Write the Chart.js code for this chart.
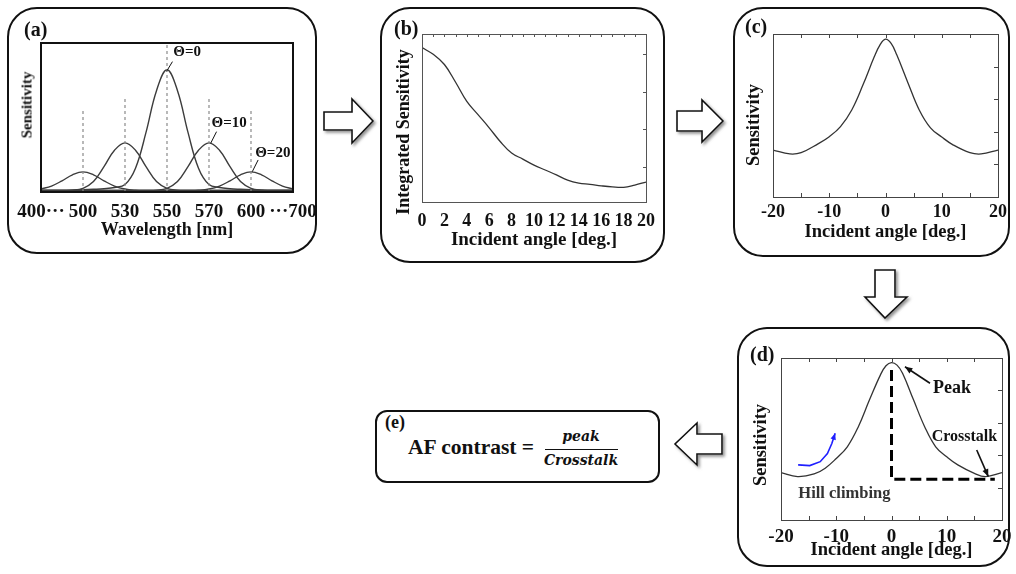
<!DOCTYPE html>
<html>
<head>
<meta charset="utf-8">
<script src="https://cdn.jsdelivr.net/npm/chart.js@4.4.1/dist/chart.umd.min.js"></script>
<style>
  body { margin:0; background:#fff; width:1016px; height:574px; position:relative; overflow:hidden;
         font-family:'Liberation Serif', serif; font-weight:bold; color:#111; }
  .box { position:absolute; border:2px solid #111; border-radius:30px; box-sizing:border-box; }
  canvas { position:absolute; }
  .lbl { position:absolute; font-size:20px; line-height:1; }
  .ytitle { position:absolute; white-space:nowrap; line-height:1; font-size:18px;
            transform:translate(-50%,-50%) rotate(-90deg); }
  svg { position:absolute; left:0; top:0; }
  .frac { position:absolute; font-family:'DejaVu Serif', serif; font-style:italic; font-weight:bold; font-size:14px; text-align:center; }
</style>
</head>
<body>

<!-- panel boxes -->
<div class="box" style="left:7px;top:7px;width:310px;height:247px"></div>
<div class="box" style="left:380px;top:7px;width:285px;height:256px"></div>
<div class="box" style="left:733px;top:7px;width:277px;height:250px"></div>
<div class="box" style="left:737px;top:327px;width:273px;height:240px"></div>
<div class="box" style="left:375px;top:410px;width:285px;height:73px;border-radius:12px"></div>

<canvas id="chartA" width="310" height="247" style="left:7px;top:7px"></canvas>
<canvas id="chartB" width="285" height="256" style="left:380px;top:7px"></canvas>
<canvas id="chartC" width="283" height="250" style="left:733px;top:7px"></canvas>
<canvas id="chartD" width="279" height="240" style="left:737px;top:327px"></canvas>

<div class="lbl" style="left:24px;top:19px">(a)</div>
<div class="lbl" style="left:394px;top:18px">(b)</div>
<div class="lbl" style="left:745px;top:16px">(c)</div>
<div class="lbl" style="left:750px;top:344px">(d)</div>
<div class="lbl" style="left:385px;top:413px;font-size:18px">(e)</div>

<div class="ytitle" style="left:27px;top:105px;font-size:15px">Sensitivity</div>
<div class="ytitle" style="left:403px;top:132px">Integrated Sensitivity</div>
<div class="ytitle" style="left:753px;top:125px;font-size:18.5px">Sensitivity</div>
<div class="ytitle" style="left:760px;top:445px;font-size:18.5px">Sensitivity</div>

<!-- (e) formula -->
<div style="position:absolute;left:408px;top:437px;font-size:21.5px;line-height:1">AF contrast =</div>
<div class="frac" style="left:541px;top:428px;width:80px">peak</div>
<div style="position:absolute;left:545px;top:449px;width:73px;height:1px;background:#111"></div>
<div class="frac" style="left:541px;top:452px;width:80px">Crosstalk</div>

<!-- block arrows between panels -->
<svg width="1016" height="574">
  <defs>
    <filter id="sh" x="-20%" y="-20%" width="150%" height="150%">
      <feDropShadow dx="2" dy="2" stdDeviation="1.4" flood-color="#777" flood-opacity="0.8"/>
    </filter>
  </defs>
  <g fill="#fff" stroke="#111" stroke-width="1.6" stroke-linejoin="miter" filter="url(#sh)">
    <polygon points="324,112 352,112 352,99 373,121 352,143 352,130 324,130"/>
    <polygon points="677,111 702,111 702,100 723,121 702,142 702,131 677,131"/>
    <polygon points="875,270 895,270 895,297 907,297 885,318 865,297 875,297"/>
    <polygon points="722,434 697,434 697,423 675,444 697,465 697,454 722,454"/>
  </g>
</svg>

<script>
// (a) spectral sensitivity, x in wavelength slots (axis drawn schematically)
const slotX = [0, 0.25, 0.5, 0.75, 1, 1.25, 1.5, 1.75, 2, 2.25, 2.5, 2.75, 3, 3.25, 3.5, 3.75, 4, 4.25, 4.5, 4.75, 5, 5.25, 5.5, 5.75, 6];
const theta20Short = [0.02, 0.04, 0.075, 0.115, 0.135, 0.115, 0.075, 0.04, 0.02, 0.012, 0.01, 0.01, 0.01, 0.01, 0.01, 0.01, 0.01, 0.01, 0.01, 0.01, 0.01, 0.01, 0.01, 0.01, 0.01];
const theta10Short = [0.01, 0.01, 0.01, 0.012, 0.025, 0.07, 0.17, 0.28, 0.33, 0.28, 0.17, 0.07, 0.025, 0.012, 0.01, 0.01, 0.01, 0.01, 0.01, 0.01, 0.01, 0.01, 0.01, 0.01, 0.01];
const theta0 = [0.01, 0.01, 0.01, 0.012, 0.015, 0.018, 0.022, 0.03, 0.05, 0.16, 0.4, 0.68, 0.82, 0.68, 0.4, 0.16, 0.05, 0.03, 0.022, 0.018, 0.015, 0.012, 0.01, 0.01, 0.01];
const theta10Long = [0.01, 0.01, 0.01, 0.01, 0.01, 0.01, 0.01, 0.01, 0.01, 0.01, 0.01, 0.012, 0.025, 0.07, 0.17, 0.28, 0.33, 0.28, 0.17, 0.07, 0.025, 0.012, 0.01, 0.01, 0.01];
const theta20Long = [0.01, 0.01, 0.01, 0.01, 0.01, 0.01, 0.01, 0.01, 0.01, 0.01, 0.01, 0.01, 0.01, 0.01, 0.01, 0.012, 0.02, 0.04, 0.075, 0.115, 0.135, 0.115, 0.075, 0.04, 0.02];
const guideSlots = [1, 2, 3, 4, 5];
const guideTops = [0.55, 0.64, 1.0, 0.64, 0.55];
const wavelengthTicks = [0, 1, 2, 3, 4, 5, 6];
const wavelengthLabels = ['400···', '500', '530', '550', '570', '600', '···700'];

// (b) integrated sensitivity vs incident angle
const bAngle = [0, 1, 2, 3, 4, 5, 6, 7, 8, 9, 10, 11, 12, 13, 14, 15, 16, 17, 18, 19, 20];
const bSens = [4.17, 3.99, 3.72, 3.25, 2.74, 2.39, 2.04, 1.67, 1.37, 1.21, 1.05, 0.92, 0.79, 0.65, 0.57, 0.54, 0.5, 0.47, 0.46, 0.52, 0.6];
const bTopTicks = [1, 2, 3, 4, 5, 6, 7, 8, 9, 10, 11, 12, 13, 14, 15, 16, 17, 18, 19];
const sensTicks = [1, 2, 3, 4];

// (c) sensitivity vs incident angle
const cAngle = [-20, -17, -15, -12, -10, -8, -6, -4, -2, -1, 0, 1, 2, 4, 6, 8, 10, 12, 15, 17, 20];
const cSens = [1.44, 1.32, 1.36, 1.63, 1.85, 2.16, 2.67, 3.44, 4.3, 4.66, 4.84, 4.71, 4.36, 3.5, 2.67, 2.12, 1.84, 1.6, 1.36, 1.32, 1.44];
const angleMinor = [-15, -10, -5, 0, 5, 10, 15];

// (d) same curve with peak / crosstalk markers
const dAngle = [-20, -17, -14, -12, -10, -8, -6, -4, -2, -1, 0, 1, 2, 4, 6, 8, 10, 12, 15, 17, 20];
const dSens = [1.46, 1.34, 1.42, 1.6, 1.9, 2.26, 2.88, 3.7, 4.48, 4.76, 4.86, 4.78, 4.53, 3.7, 2.88, 2.26, 1.95, 1.7, 1.44, 1.34, 1.46];
const contrastX = [0, 0, 18.7];
const contrastY = [4.63, 1.26, 1.26];
const climbX = [-16.9, -14.8, -12.9, -11.6, -10.8, -10.2];
const climbY = [1.7, 1.68, 1.8, 2.05, 2.36, 2.68];

const serif = 'Liberation Serif';
const pts = (xs, ys) => xs.map((x, i) => ({ x: x, y: ys[i] }));

function drawArrow(ctx, x1, y1, x2, y2, size) {
  const a = Math.atan2(y2 - y1, x2 - x1);
  ctx.beginPath();
  ctx.moveTo(x2, y2);
  ctx.lineTo(x2 - size * Math.cos(a - 0.4), y2 - size * Math.sin(a - 0.4));
  ctx.lineTo(x2 - size * Math.cos(a + 0.4), y2 - size * Math.sin(a + 0.4));
  ctx.closePath();
  ctx.fill();
}

// frame round the plot area + inward tick marks
const framePlugin = {
  id: 'frame',
  afterDatasetsDraw(chart, args, opts) {
    const { ctx, chartArea: a, scales: { x, y } } = chart;
    const len = opts.len || 4;
    ctx.save();
    ctx.strokeStyle = opts.color || '#333';
    ctx.lineWidth = opts.width || 1;
    const off = (opts.width || 1) % 2 ? 0.5 : 0;
    ctx.strokeRect(Math.round(a.left) + off, Math.round(a.top) + off, Math.round(a.right - a.left), Math.round(a.bottom - a.top));
    ctx.beginPath();
    (opts.top || []).forEach(v => { const p = Math.round(x.getPixelForValue(v)) + 0.5; ctx.moveTo(p, a.top); ctx.lineTo(p, a.top + len); });
    (opts.bottom || []).forEach(v => { const p = Math.round(x.getPixelForValue(v)) + 0.5; ctx.moveTo(p, a.bottom); ctx.lineTo(p, a.bottom - len); });
    (opts.right || []).forEach(v => { const p = Math.round(y.getPixelForValue(v)) + 0.5; ctx.moveTo(a.right, p); ctx.lineTo(a.right - len, p); });
    ctx.stroke();
    ctx.restore();
  }
};

// text labels and leader / pointer lines, placed in data units
const notesPlugin = {
  id: 'notes',
  afterDatasetsDraw(chart, args, opts) {
    const { ctx, scales: { x, y } } = chart;
    ctx.save();
    (opts.lines || []).forEach(l => {
      ctx.strokeStyle = l.color || '#111';
      ctx.fillStyle = l.color || '#111';
      ctx.lineWidth = l.width || 1;
      ctx.beginPath();
      l.x.forEach((v, i) => {
        const px = x.getPixelForValue(v), py = y.getPixelForValue(l.y[i]);
        if (i === 0) ctx.moveTo(px, py); else ctx.lineTo(px, py);
      });
      ctx.stroke();
      if (l.head) {
        const n = l.x.length;
        drawArrow(ctx, x.getPixelForValue(l.x[n - 2]), y.getPixelForValue(l.y[n - 2]),
          x.getPixelForValue(l.x[n - 1]), y.getPixelForValue(l.y[n - 1]), l.head);
      }
    });
    (opts.texts || []).forEach(t => {
      ctx.font = t.font;
      ctx.fillStyle = t.color || '#111';
      ctx.textAlign = 'left';
      ctx.textBaseline = 'middle';
      ctx.fillText(t.text, x.getPixelForValue(t.x), y.getPixelForValue(t.y));
    });
    ctx.restore();
  }
};

// fixed height for the bottom axis, and no extra room for overhanging end labels
function fixHeight(height) {
  return s => { s.height = height; s.paddingLeft = 0; s.paddingRight = 0; };
}

function angleAxis(min, max, step, size, pad, titleSize, titlePad, height) {
  return {
    type: 'linear', min: min, max: max,
    grid: { display: false, drawTicks: false },
    border: { display: false },
    ticks: { stepSize: step, autoSkip: false, maxRotation: 0, padding: pad, color: '#111',
             font: { family: serif, size: size, weight: 'bold' } },
    title: { display: true, text: 'Incident angle [deg.]', color: '#111', padding: { top: 0, bottom: titlePad },
             font: { family: serif, size: titleSize, weight: 'bold' } },
    afterFit: fixHeight(height)
  };
}

function sensAxis(min, max, width) {
  return {
    type: 'linear', min: min, max: max,
    grid: { display: false, drawTicks: false },
    border: { display: false },
    ticks: { display: false },
    afterBuildTicks: s => { s.ticks = sensTicks.map(v => ({ value: v })); },
    afterFit: s => { s.width = width; }
  };
}

const curveStyle = { borderColor: '#333', borderWidth: 1.3, pointRadius: 0, fill: false, tension: 0.4 };
const base = { responsive: false, animation: false, events: [] };

// ---- (a)
const guideSets = guideSlots.map((g, i) => ({
  data: pts([g, g], [0, guideTops[i]]),
  borderColor: '#8a8a8a', borderWidth: 1.2, borderDash: [3, 3], pointRadius: 0
}));
new Chart(document.getElementById('chartA'), {
  type: 'line',
  data: {
    datasets: guideSets.concat([theta20Short, theta10Short, theta0, theta10Long, theta20Long].map(ys => Object.assign({ data: pts(slotX, ys) }, curveStyle, { borderColor: '#3c3c3c', borderWidth: 1.4 })))
  },
  options: Object.assign({}, base, {
    layout: { autoPadding: false, padding: { top: 36, right: 24, left: 0, bottom: 0 } },
    plugins: {
      legend: { display: false }, tooltip: { enabled: false },
      frame: { color: '#111', width: 2 },
      notes: {
        lines: [
          { x: [3.13, 2.99], y: [0.875, 0.81] },
          { x: [4.18, 4.04], y: [0.405, 0.327] },
          { x: [5.17, 5.03], y: [0.215, 0.136] }
        ],
        texts: [
          { text: 'Θ=0', x: 3.15, y: 0.94, font: 'bold 15px ' + serif },
          { text: 'Θ=10', x: 4.06, y: 0.46, font: 'bold 15px ' + serif },
          { text: 'Θ=20', x: 5.1, y: 0.26, font: 'bold 15px ' + serif }
        ]
      }
    },
    scales: {
      x: {
        type: 'linear', min: 0, max: 6,
        grid: { display: false, drawTicks: false }, border: { display: false },
        afterBuildTicks: s => { s.ticks = wavelengthTicks.map(v => ({ value: v })); },
        ticks: { autoSkip: false, maxRotation: 0, padding: 9, color: '#111',
                 font: { family: serif, size: 19, weight: 'bold' },
                 callback: v => wavelengthLabels[wavelengthTicks.indexOf(v)] },
        title: { display: true, text: 'Wavelength [nm]', color: '#111', padding: { top: 0, bottom: 13 },
                 font: { family: serif, size: 18, weight: 'bold' } },
        afterFit: fixHeight(62)
      },
      y: {
        type: 'linear', min: 0, max: 1,
        grid: { display: false, drawTicks: false }, border: { display: false },
        ticks: { display: false },
        afterFit: s => { s.width = 34; }
      }
    }
  }),
  plugins: [framePlugin, notesPlugin]
});

// ---- (b)
new Chart(document.getElementById('chartB'), {
  type: 'line',
  data: { datasets: [Object.assign({ data: pts(bAngle, bSens) }, curveStyle)] },
  options: Object.assign({}, base, {
    layout: { autoPadding: false, padding: { top: 27, right: 19, left: 0, bottom: 0 } },
    plugins: { legend: { display: false }, tooltip: { enabled: false },
               frame: { color: '#555', top: bTopTicks, right: sensTicks, len: 3 } },
    scales: {
      x: angleAxis(0, 20, 2, 18, 9, 19, 12, 61),
      y: sensAxis(0.07, 4.53, 42)
    }
  }),
  plugins: [framePlugin]
});

// ---- (c)
new Chart(document.getElementById('chartC'), {
  type: 'line',
  data: { datasets: [Object.assign({ data: pts(cAngle, cSens) }, curveStyle)] },
  options: Object.assign({}, base, {
    layout: { autoPadding: false, padding: { top: 27, right: 18, left: 0, bottom: 0 } },
    plugins: { legend: { display: false }, tooltip: { enabled: false },
               frame: { color: '#444', top: angleMinor, bottom: angleMinor, right: sensTicks, len: 4 } },
    scales: {
      x: angleAxis(-20, 20, 10, 18, 5, 18.5, 14, 60),
      y: sensAxis(0, 5, 40)
    }
  }),
  plugins: [framePlugin]
});

// ---- (d)
new Chart(document.getElementById('chartD'), {
  type: 'line',
  data: {
    datasets: [
      Object.assign({ data: pts(dAngle, dSens) }, curveStyle),
      { data: pts(contrastX, contrastY), borderColor: '#000', borderWidth: 3, borderDash: [11, 5], pointRadius: 0 }
    ]
  },
  options: Object.assign({}, base, {
    layout: { autoPadding: false, padding: { top: 31, right: 14, left: 0, bottom: 0 } },
    plugins: {
      legend: { display: false }, tooltip: { enabled: false },
      frame: { color: '#444', top: angleMinor, bottom: angleMinor, right: sensTicks, len: 4 },
      notes: {
        lines: [
          { x: climbX, y: climbY, color: '#1f1fff', width: 1.6, head: 7 },
          { x: [6.97, 2.44], y: [4.22, 4.73], width: 1.6, head: 8 },
          { x: [15.42, 17.52], y: [2.16, 1.34], width: 1.6, head: 8 }
        ],
        texts: [
          { text: 'Peak', x: 7.5, y: 4.07, font: 'bold 18px ' + serif },
          { text: 'Crosstalk', x: 7.27, y: 2.57, font: 'bold 16px ' + serif },
          { text: 'Hill climbing', x: -16.87, y: 0.82, font: 'bold 16.5px ' + serif, color: '#333' }
        ]
      }
    },
    scales: {
      x: angleAxis(-20, 20, 10, 19, 6, 18.5, 6, 47),
      y: sensAxis(0, 5, 44)
    }
  }),
  plugins: [framePlugin, notesPlugin]
});
</script>
</body>
</html>
